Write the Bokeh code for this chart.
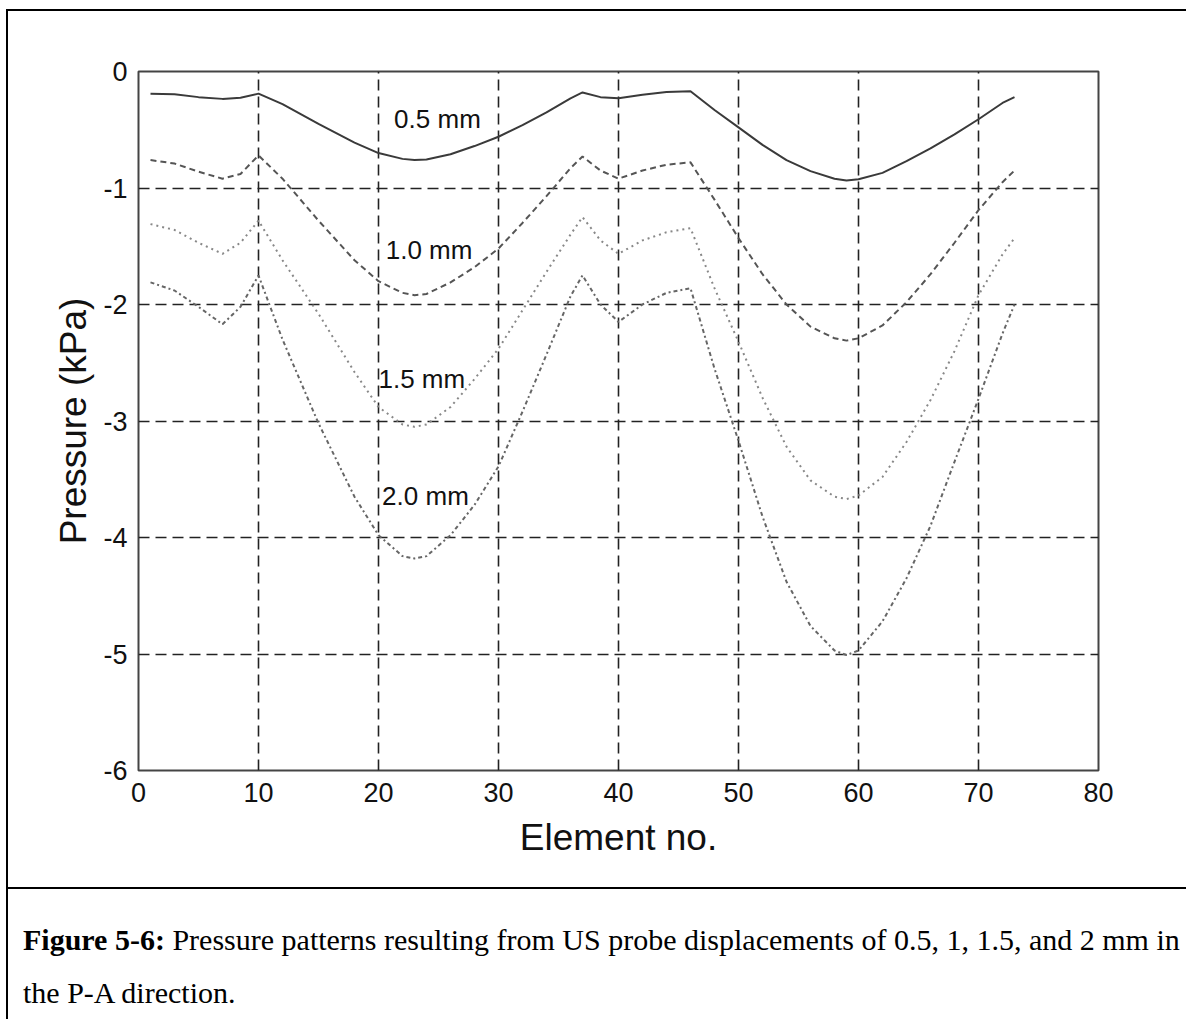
from bokeh.plotting import figure
from bokeh.embed import file_html
from bokeh.resources import INLINE
from bokeh.models import Label, FixedTicker, Div
from bokeh.layouts import column

# ---- data ----
element_no = [1, 3, 5, 7, 8.5, 10, 12, 15, 18, 20, 22, 23, 24, 26, 28, 30, 32, 34, 36, 37,
              38.5, 40, 42, 44, 46, 48, 50, 52, 54, 56, 58, 59, 60, 62, 64, 66, 68, 70, 72, 73]

p_05mm = [-0.19, -0.195, -0.22, -0.235, -0.225, -0.19, -0.28, -0.45, -0.61, -0.70, -0.75, -0.76,
          -0.755, -0.71, -0.64, -0.56, -0.46, -0.35, -0.23, -0.18, -0.22, -0.23, -0.20, -0.175,
          -0.17, -0.33, -0.48, -0.63, -0.76, -0.855, -0.92, -0.935, -0.925, -0.87, -0.77, -0.66,
          -0.54, -0.41, -0.27, -0.22]

p_10mm = [-0.76, -0.79, -0.86, -0.92, -0.88, -0.72, -0.92, -1.28, -1.62, -1.80, -1.90, -1.92,
          -1.91, -1.81, -1.68, -1.52, -1.30, -1.07, -0.83, -0.73, -0.85, -0.92, -0.85, -0.80,
          -0.78, -1.10, -1.43, -1.74, -2.00, -2.19, -2.29, -2.31, -2.29, -2.18, -1.98, -1.74,
          -1.47, -1.19, -0.95, -0.85]

p_15mm = [-1.31, -1.36, -1.47, -1.565, -1.47, -1.28, -1.62, -2.08, -2.58, -2.88, -3.03, -3.05,
          -3.03, -2.88, -2.64, -2.38, -2.05, -1.72, -1.40, -1.25, -1.45, -1.565, -1.45, -1.38,
          -1.345, -1.86, -2.32, -2.80, -3.22, -3.51, -3.65, -3.67, -3.64, -3.48, -3.18, -2.82,
          -2.40, -1.92, -1.57, -1.43]

p_20mm = [-1.81, -1.88, -2.02, -2.17, -2.02, -1.75, -2.30, -3.02, -3.65, -3.98, -4.16, -4.18,
          -4.16, -3.98, -3.72, -3.39, -2.92, -2.43, -1.93, -1.75, -2.00, -2.15, -2.00, -1.90,
          -1.86, -2.55, -3.17, -3.82, -4.38, -4.76, -4.97, -5.01, -4.97, -4.72, -4.35, -3.90,
          -3.35, -2.81, -2.25, -2.00]

series_labels = ["0.5 mm", "1.0 mm", "1.5 mm", "2.0 mm"]
label_x = [21.3, 20.6, 20.0, 20.3]
label_y = [-0.406, -1.536, -2.64, -3.64]

x_ticks = [0, 10, 20, 30, 40, 50, 60, 70, 80]
y_ticks = [-6, -5, -4, -3, -2, -1, 0]
y_tick_text = ["-6", "-5", "-4", "-3", "-2", "-1", "0"]

caption_bold = "Figure 5-6:"
caption_rest = "Pressure patterns resulting from US probe displacements of 0.5, 1, 1.5, and 2 mm in"
caption_line2 = "the P-A direction."

# ---- figure ----
p = figure(width=1178, height=876, x_range=(0, 80), y_range=(-6, 0),
           output_backend="svg", toolbar_location=None,
           min_border_left=130, min_border_right=88, min_border_top=60, min_border_bottom=117)
p.background_fill_color = "white"
p.border_fill_color = "white"
p.outline_line_color = "#444444"
p.outline_line_width = 2

for ax in (p.xaxis[0], p.yaxis[0]):
    ax.axis_line_color = None
    ax.major_tick_out = 0
    ax.major_tick_in = 0
    ax.minor_tick_out = 0
    ax.minor_tick_in = 0
    ax.major_label_text_font = "Liberation Sans"
    ax.major_label_text_font_size = "27px"
    ax.major_label_text_color = "#111111"
    ax.axis_label_text_font = "Liberation Sans"
    ax.axis_label_text_font_size = "37px"
    ax.axis_label_text_font_style = "normal"
    ax.axis_label_text_color = "#111111"

p.xaxis.ticker = FixedTicker(ticks=x_ticks)
p.yaxis.ticker = FixedTicker(ticks=y_ticks)
p.yaxis.major_label_overrides = {t: s for t, s in zip(y_ticks, y_tick_text)}
p.xaxis.axis_label = "Element no."
p.yaxis.axis_label = "Pressure (kPa)"
p.xaxis.major_label_standoff = 12
p.xaxis.axis_label_standoff = 12
p.yaxis.major_label_standoff = 11
p.yaxis.axis_label_standoff = 6

p.xgrid.ticker = FixedTicker(ticks=x_ticks[1:-1])
p.ygrid.ticker = FixedTicker(ticks=y_ticks[1:-1])
for g in (p.xgrid[0], p.ygrid[0]):
    g.grid_line_color = "#222222"
    g.grid_line_width = 1.6
    g.grid_line_dash = "11 6"

p.line(element_no, p_05mm, line_color="#3a3a3a", line_width=2)
p.line(element_no, p_10mm, line_color="#555555", line_width=2, line_dash="6 4")
p.line(element_no, p_15mm, line_color="#888888", line_width=2, line_dash="2 4")
p.line(element_no, p_20mm, line_color="#666666", line_width=2, line_dash="4 3 2 3")

for t, lx, ly in zip(series_labels, label_x, label_y):
    p.add_layout(Label(x=lx, y=ly, text=t, text_font="Liberation Sans", text_font_size="26px",
                       text_color="#111111", text_align="left", text_baseline="middle"))

# ---- caption below a separator line ----
caption_html = (
    '<div style="font-family:\'Liberation Serif\',serif;font-size:30px;color:black;'
    'line-height:53px;padding:24px 0 0 15px;">'
    '<div style="width:1153px;white-space:nowrap;text-align:justify;text-align-last:justify;">'
    f'<b>{caption_bold}</b> {caption_rest}</div>'
    f'<div>{caption_line2}</div></div>'
)
caption = Div(text=caption_html, width=1178, height=132,
              styles={"border-top": "2px solid black", "margin": "0", "padding": "0"})

page = column(p, caption, spacing=0, margin=(9, 0, 0, 6),
              styles={"border-left": "2px solid black", "border-top": "2px solid black"})

open("out.html", "w").write(file_html(page, INLINE))
